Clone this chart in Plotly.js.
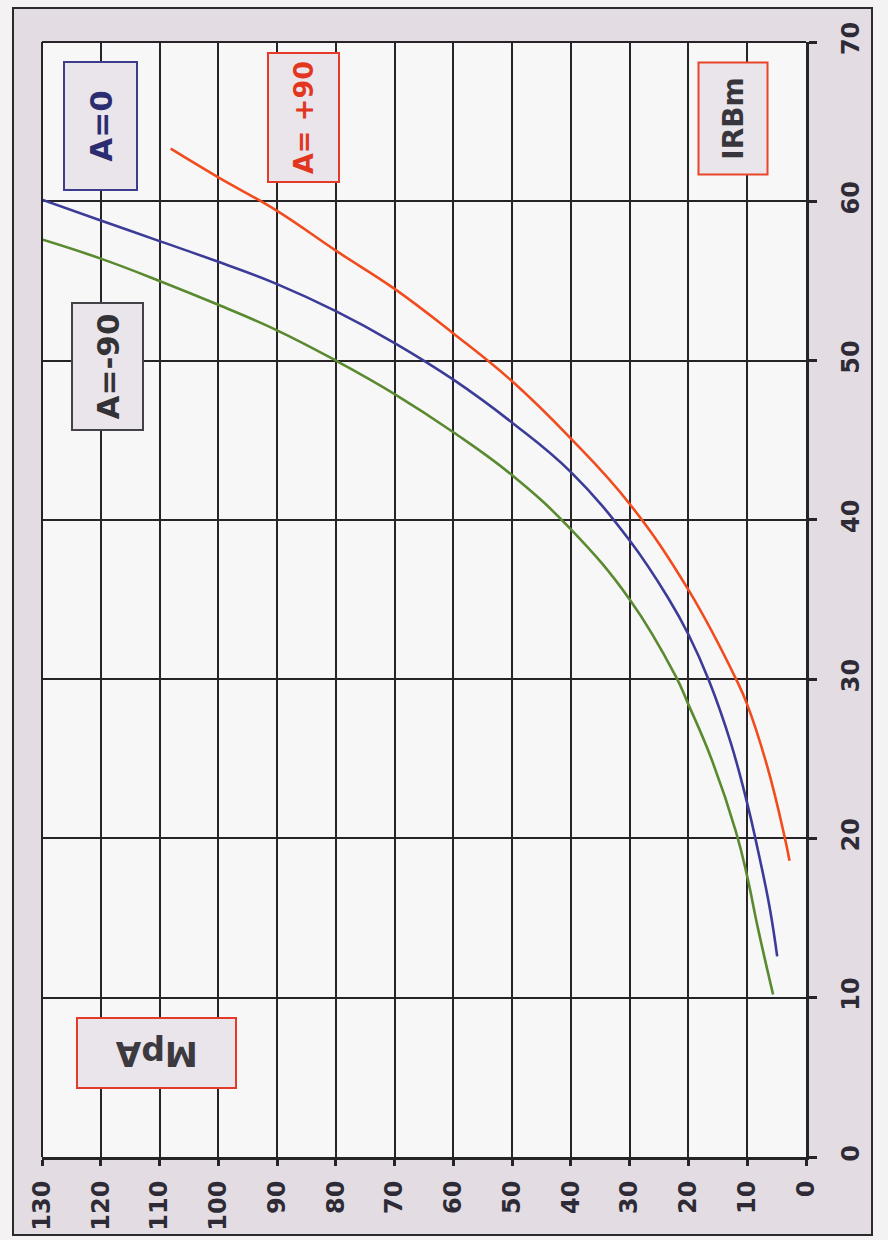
<!DOCTYPE html>
<html>
<head>
<meta charset="utf-8">
<script src="https://cdn.plot.ly/plotly-3.0.1.min.js"></script>
<style>
  html, body { margin: 0; padding: 0; background: #f4f2f3; }
  #chart { width: 888px; height: 1240px; }
</style>
</head>
<body>
<div id="chart"></div>
<script>
// ---- Data (MPa on the horizontal, IRBm on the vertical; chart is drawn rotated) ----
const mpaTicks = [0, 10, 20, 30, 40, 50, 60, 70, 80, 90, 100, 110, 120, 130];
const irbmTicks = [0, 10, 20, 30, 40, 50, 60, 70];

// A = -90 (green)
const greenMPa  = [130, 120, 110, 100, 90, 80, 70, 60, 50, 40, 30, 22.2, 20, 16.2, 11.9, 10, 8.2, 5.6];
const greenIRBm = [57.6, 56.4, 55.0, 53.5, 51.9, 50.0, 47.9, 45.5, 42.8, 39.4, 35.0, 30.2, 28.4, 25.1, 20.4, 17.6, 14.4, 10.2];

// A = 0 (blue)
const blueMPa  = [130, 120, 110, 100, 90, 80, 70, 60, 50, 40, 30, 23.3, 20, 16.5, 12.8, 10, 8.5, 6.2, 4.9];
const blueIRBm = [60.1, 58.8, 57.5, 56.2, 54.8, 53.1, 51.1, 48.8, 46.1, 43.0, 38.7, 35.0, 32.8, 29.9, 26.0, 22.2, 19.8, 15.7, 12.6];

// A = +90 (red)
const redMPa  = [108.1, 100, 90, 80, 70, 60, 50, 40, 30, 20, 11.9, 10, 6.5, 3.7, 2.8];
const redIRBm = [63.3, 61.5, 59.4, 56.9, 54.5, 51.7, 48.7, 45.1, 41.0, 35.6, 30.0, 28.4, 24.4, 20.2, 18.6];

// Label texts
const labelA0 = "A=0";
const labelAm90 = "A=-90";
const labelAp90 = "A= +90";
const labelIRBm = "IRBm";
const labelMPa = "MpA";

// ---- Plot ----
const lineW = 2.6;
const traces = [
  { x: greenMPa, y: greenIRBm, mode: 'lines', line: { color: '#5a8a30', width: lineW, shape: 'spline', smoothing: 1.2 }, hoverinfo: 'skip' },
  { x: blueMPa,  y: blueIRBm,  mode: 'lines', line: { color: '#3b3c98', width: lineW, shape: 'spline', smoothing: 1.2 }, hoverinfo: 'skip' },
  { x: redMPa,   y: redIRBm,   mode: 'lines', line: { color: '#f04c1e', width: lineW, shape: 'spline', smoothing: 1.2 }, hoverinfo: 'skip' }
];

const tickFont = { family: 'DejaVu Sans', size: 24, color: '#2e2b36', weight: 'bold' };
const gridC = '#262426';

const L = 42, R = 806, T = 42, B = 1157;
const W = R - L, H = B - T;
const px = v => (v - L) / W;
const py = v => (B - v) / H;

function box(text, cx, cy, w, h, color, border, angle, size) {
  return {
    xref: 'paper', yref: 'paper', x: px(cx), y: py(cy),
    xanchor: 'center', yanchor: 'middle',
    text: text, showarrow: false, textangle: angle,
    width: w, height: h, borderpad: 0,
    bordercolor: border, borderwidth: 2, bgcolor: '#e9e5ea',
    font: { family: 'DejaVu Sans', size: size, color: color, weight: 'bold' }
  };
}

const layout = {
  width: 888, height: 1240,
  margin: { l: L, r: 888 - R, t: T, b: 1240 - B, pad: 0 },
  paper_bgcolor: '#f4f2f3',
  plot_bgcolor: 'rgba(0,0,0,0)',
  showlegend: false,
  xaxis: {
    range: [130, 0], tickvals: mpaTicks, ticktext: mpaTicks.map(String),
    showgrid: true, gridcolor: gridC, gridwidth: 2,
    zeroline: false, showline: true, linecolor: gridC, linewidth: 3,
    ticks: 'outside', ticklen: 6, tickwidth: 3, tickcolor: gridC,
    tickangle: -90, tickfont: tickFont, ticklabelstandoff: 5
  },
  yaxis: {
    range: [0, 70], side: 'right', tickvals: irbmTicks, ticktext: irbmTicks.map(String),
    showgrid: true, gridcolor: gridC, gridwidth: 2,
    zeroline: false, showline: true, linecolor: gridC, linewidth: 3,
    ticks: 'outside', ticklen: 8, tickwidth: 3, tickcolor: gridC,
    tickangle: -90, tickfont: tickFont, ticklabelstandoff: 13
  },
  shapes: [
    { type: 'rect', xref: 'paper', yref: 'paper', layer: 'below',
      x0: px(13), x1: px(872), y0: py(1235), y1: py(8),
      fillcolor: '#e3dde3', line: { color: '#2b2a2c', width: 2 } },
    { type: 'rect', xref: 'paper', yref: 'paper', layer: 'below',
      x0: 0, x1: 1, y0: 0, y1: 1,
      fillcolor: '#f8f7f7', line: { width: 0 } },
    // top and left plot-edge grid lines
    { type: 'line', xref: 'paper', yref: 'paper', x0: 0, x1: 1, y0: 1, y1: 1, line: { color: gridC, width: 2 } },
    { type: 'line', xref: 'paper', yref: 'paper', x0: 0, x1: 0, y0: 0, y1: 1, line: { color: gridC, width: 2 } }
  ],
  annotations: [
    box(labelA0, 100, 126, 126, 71, '#2c2d70', '#3d3d8c', -90, 31),
    box(labelAm90, 107.5, 366.5, 125, 69, '#333236', '#444246', -90, 31),
    box(labelAp90, 303.5, 117.5, 127, 69, '#e3361f', '#e5392a', -90, 27),
    box(labelIRBm, 732.5, 119, 110, 67, '#38363c', '#e8452a', -90, 28),
    box(labelMPa, 156.5, 1053, 157, 68, '#3c3a40', '#e53a2a', 180, 33)
  ]
};

Plotly.newPlot('chart', traces, layout, { staticPlot: true, displayModeBar: false });
</script>
</body>
</html>
